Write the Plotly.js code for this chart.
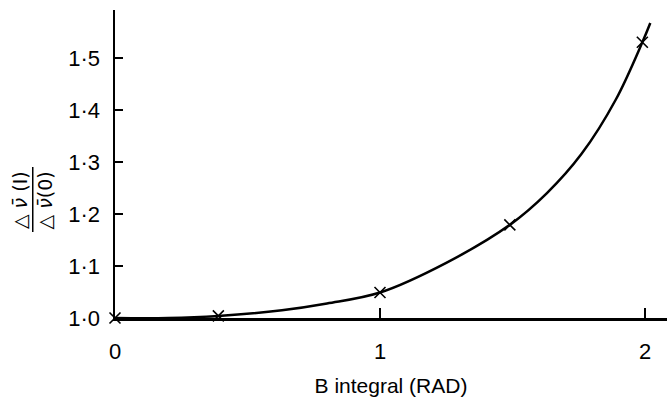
<!DOCTYPE html>
<html>
<head>
<meta charset="utf-8">
<script src="https://cdn.plot.ly/plotly-3.0.1.min.js"></script>
<style>html,body{margin:0;padding:0;background:#fff}#chart{width:667px;height:409px}</style>
</head>
<body>
<div id="chart"></div>
<script>
// Measured points (crosses)
const pointX = [0, 0.39, 1.0, 1.49, 1.99];
const pointY = [1.0, 1.004, 1.049, 1.179, 1.53];
// Smooth fitted curve
const curveX = [0, 0.2, 0.39, 0.63, 0.8, 1.0, 1.25, 1.49, 1.63, 1.76, 1.89, 1.99, 2.02];
const curveY = [1.0, 1.0, 1.004, 1.015, 1.028, 1.049, 1.106, 1.179, 1.24, 1.315, 1.42, 1.53, 1.567];
// Tick labels
const yTickVals = [1.0, 1.1, 1.2, 1.3, 1.4, 1.5];
const yTickText = ['1·0', '1·1', '1·2', '1·3', '1·4', '1·5'];
const xTickVals = [0, 1, 2];
const xTickText = ['0', '1', '2'];

const font = 'Liberation Sans, Arial, sans-serif';

const traces = [
  {x: curveX, y: curveY, mode: 'lines', type: 'scatter',
   line: {color: '#000', width: 2.5, shape: 'spline', smoothing: 1}, hoverinfo: 'skip', showlegend: false, cliponaxis: false},
  {x: pointX, y: pointY, mode: 'markers', type: 'scatter',
   marker: {symbol: 'x-thin-open', size: 11, color: '#000', line: {color: '#000', width: 1.6}}, showlegend: false, cliponaxis: false}
];

const layout = {
  width: 667, height: 409,
  margin: {l: 115, r: 0, t: 10, b: 91},
  paper_bgcolor: '#fff', plot_bgcolor: '#fff',
  showlegend: false,
  font: {family: font, color: '#000', size: 22},
  xaxis: {
    range: [0, 2.083], showgrid: false, zeroline: false,
    showline: true, linecolor: '#000', linewidth: 2.5,
    ticks: 'inside', ticklen: 10, tickwidth: 2, tickcolor: '#000',
    tickvals: xTickVals, ticktext: xTickText,
    tickfont: {family: font, size: 22, color: '#000'},
    ticklabelstandoff: 12,
    title: {text: 'B integral (RAD)', font: {family: font, size: 21, color: '#000'}, standoff: 16}
  },
  yaxis: {
    range: [1.0, 1.592], showgrid: false, zeroline: false,
    showline: true, linecolor: '#000', linewidth: 2.5,
    ticks: 'inside', ticklen: 8, tickwidth: 2, tickcolor: '#000',
    tickvals: yTickVals, ticktext: yTickText,
    tickfont: {family: font, size: 22, color: '#000'},
    ticklabelstandoff: 8
  },
  annotations: [
    {xref: 'paper', yref: 'paper', x: -0.172, y: 0.383, xanchor: 'center', yanchor: 'middle',
     text: '△ <i>ν̄</i> (I)', textangle: -90, showarrow: false,
     font: {family: 'DejaVu Sans, sans-serif', size: 19, color: '#000'}},
    {xref: 'paper', yref: 'paper', x: -0.126, y: 0.383, xanchor: 'center', yanchor: 'middle',
     text: '△ <i>ν̄</i>(0)', textangle: -90, showarrow: false,
     font: {family: 'DejaVu Sans, sans-serif', size: 19, color: '#000'}}
  ],
  shapes: [
    {type: 'line', xref: 'paper', yref: 'paper', x0: -0.149, x1: -0.149, y0: 0.279, y1: 0.490,
     line: {color: '#000', width: 1.5}}
  ]
};

Plotly.newPlot('chart', traces, layout, {displayModeBar: false, staticPlot: true});
</script>
</body>
</html>
